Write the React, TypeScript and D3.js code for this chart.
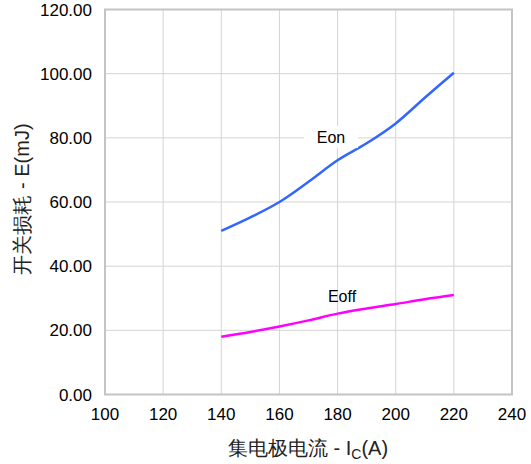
import React from "react";
import * as d3 from "d3";

const xTicks = [100, 120, 140, 160, 180, 200, 220, 240];
const yTicks = [0, 20, 40, 60, 80, 100, 120];
const current = [140, 150, 160, 170, 180, 190, 200, 210, 220];
const eon = [51, 55.2, 60, 66.3, 73, 78.3, 84.5, 92.5, 100.3];
const eoff = [18, 19.5, 21.2, 23.1, 25.2, 26.8, 28.2, 29.7, 31];

const W = 531, H = 464;
const m = { left: 105, right: 512, top: 9.5, bottom: 394.5 };

export default function App() {
  const x = d3.scaleLinear().domain([100, 240]).range([m.left, m.right]);
  const y = d3.scaleLinear().domain([0, 120]).range([m.bottom, m.top]);
  const line = d3
    .line<number>()
    .x((_, i) => x(current[i]))
    .y((d) => y(d))
    .curve(d3.curveCatmullRom.alpha(0.5));
  const font = "Liberation Sans, Arial, sans-serif";
  return (
    <svg width={W} height={H} style={{ position: "absolute", left: 0, top: 0 }}>
      <rect x={0} y={0} width={W} height={H} fill="#fff" />
      {xTicks.map((t) => (
        <line key={"gx" + t} x1={x(t)} x2={x(t)} y1={m.top} y2={m.bottom} stroke="#d4d4d4" strokeWidth={1} />
      ))}
      {yTicks.map((t) => (
        <line key={"gy" + t} x1={m.left} x2={m.right} y1={y(t)} y2={y(t)} stroke="#d4d4d4" strokeWidth={1} />
      ))}
      <rect x={m.left} y={m.top} width={m.right - m.left} height={m.bottom - m.top} fill="none" stroke="#c4c4c4" strokeWidth={2} />
      <path d={line(eon) || ""} fill="none" stroke="#3366ff" strokeWidth={2.5} />
      <path d={line(eoff) || ""} fill="none" stroke="#ff00ff" strokeWidth={2.5} />
      <rect x={304} y={126} width={54} height={22} fill="#fff" />
      <text x={331} y={143} textAnchor="middle" fontFamily={font} fontSize={16} fill="#000">Eon</text>
      <text x={342} y={302} textAnchor="middle" fontFamily={font} fontSize={16} fill="#000">Eoff</text>
      {yTicks.map((t) => (
        <text key={"ty" + t} x={92} y={y(t) + 6} textAnchor="end" fontFamily={font} fontSize={17} fill="#000">
          {t.toFixed(2)}
        </text>
      ))}
      {xTicks.map((t) => (
        <text key={"tx" + t} x={x(t)} y={420} textAnchor="middle" fontFamily={font} fontSize={17} fill="#000">
          {t}
        </text>
      ))}
      <text x={308} y={455} textAnchor="middle" fontFamily={font} fontSize={20} fill="#222">
        集电极电流 - I<tspan fontSize={14} dy={4}>C</tspan><tspan dy={-4}>(A)</tspan>
      </text>
      <text transform={`translate(29,199) rotate(-90)`} textAnchor="middle" fontFamily={font} fontSize={20} fill="#222">
        开关损耗 - E(mJ)
      </text>
    </svg>
  );
}
